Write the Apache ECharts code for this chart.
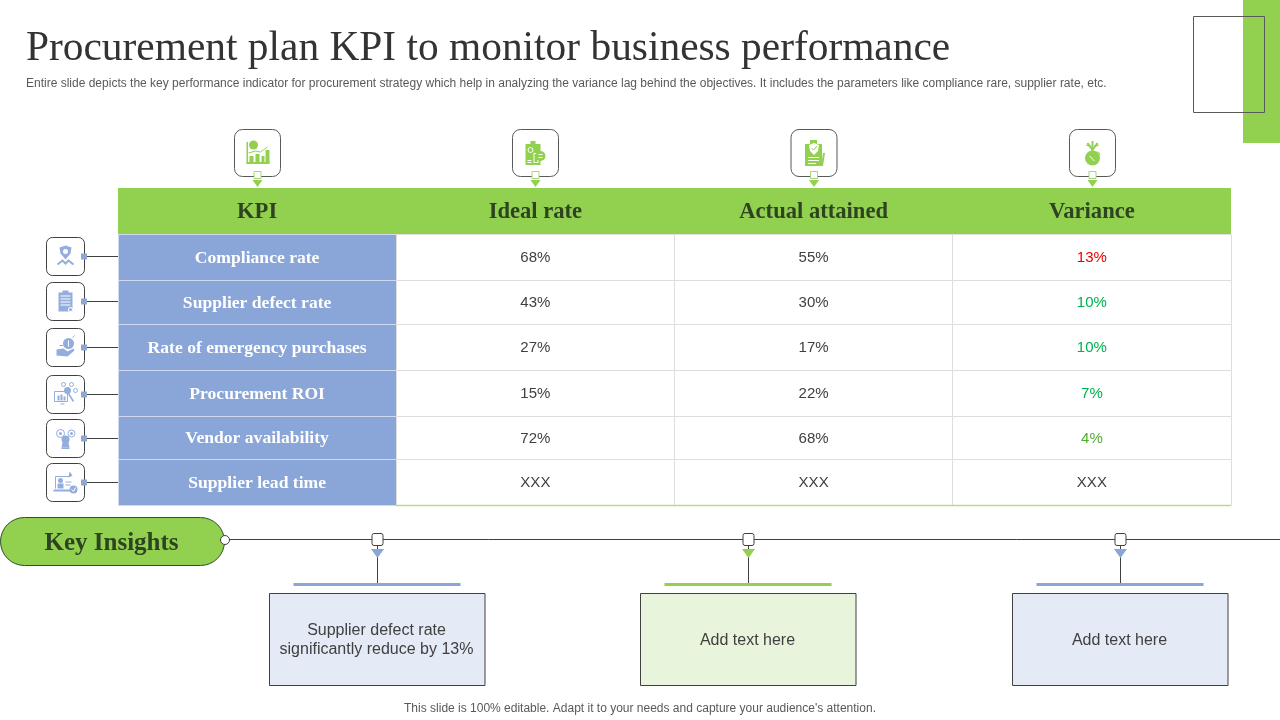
<!DOCTYPE html>
<html>
<head>
<meta charset="utf-8">
<title>Procurement plan KPI</title>
<script src="https://cdn.jsdelivr.net/npm/echarts@6/dist/echarts.min.js"></script>
<style>
html, body { margin: 0; padding: 0; background: #fff; }
#main { width: 1280px; height: 720px; }
</style>
</head>
<body>
<div id="main"></div>
<script>
var headline = 'Procurement plan KPI to monitor business performance';
var subline = 'Entire slide depicts the key performance indicator for procurement strategy which help in analyzing the variance lag behind the objectives. It includes the parameters like compliance rare, supplier rate, etc.';
var footer = 'This slide is 100% editable. Adapt it to your needs and capture your audience\'s attention.';

// table data, null is the XXX placeholder of the slide
var columns = ['KPI', 'Ideal rate', 'Actual attained', 'Variance'];
var kpis = ['Compliance rate', 'Supplier defect rate', 'Rate of emergency purchases', 'Procurement ROI', 'Vendor availability', 'Supplier lead time'];
var idealRate = [68, 43, 27, 15, 72, null];
var actualAttained = [55, 30, 17, 22, 68, null];
var variance = [13, 10, 10, 7, 4, null];
var insights = ['Supplier defect rate\nsignificantly reduce by 13%', 'Add text here', 'Add text here'];

// layout and look
var rowHeights = [46, 46, 44, 46, 46, 43, 46];
var varianceColors = ['#E60000', '#00B050', '#00B050', '#00B050', '#4FAE2E', '#404040'];
var GREEN = '#92D050', BLUE = '#8AA6D8', DARK = '#595959', INK = '#2E4420';
var SERIF = '"Liberation Serif", serif', SANS = '"Liberation Sans", Arial, sans-serif';
var insightFill = ['#E4EAF6', '#E8F4DB', '#E4EAF6'];
var insightAccent = [BLUE, GREEN, BLUE];
var topIconX = [257.5, 535.5, 814, 1092.5];
var sideIconY = [256.5, 301.5, 347.5, 394.5, 438.5, 482.5];

function pct(v) { return v === null ? 'XXX' : v + '%'; }

var cellData = [];
columns.forEach(function (c, i) { cellData.push([i, 0, c]); });
kpis.forEach(function (k, r) {
    cellData.push([0, r + 1, k]);
    cellData.push([1, r + 1, pct(idealRate[r])]);
    cellData.push([2, r + 1, pct(actualAttained[r])]);
    cellData.push([3, r + 1, pct(variance[r])]);
});

function renderCell(params, api) {
    var col = api.value(0), row = api.value(1);
    var top = 0;
    for (var i = 0; i < row; i++) top += rowHeights[i];
    var p0 = api.coord([col, top]);
    var p1 = api.coord([col, top + rowHeights[row]]);
    var w = api.size([1, 0])[0];
    var x = Math.floor(p0[0] - w / 2), xr = Math.floor(p0[0] + w / 2);
    var y = p0[1], h = p1[1] - p0[1];
    var cx = p0[0];
    var fill = '#fff', stroke = '#DEDEDE', text = '#404040', font = '15px ' + SANS, dy = 1, off = 0.5;
    if (row === 0) {
        fill = GREEN; stroke = GREEN; text = INK; font = 'bold 22.6px ' + SERIF; off = 0;
    } else if (col === 0) {
        fill = BLUE; stroke = '#CFDAF0'; text = '#fff'; font = 'bold 17.6px ' + SERIF;
    } else if (col === 3) {
        text = varianceColors[row - 1];
    }
    var kids = [
        { type: 'rect', shape: { x: x + off, y: y + off, width: xr - x, height: h }, style: { fill: fill, stroke: row === 0 ? null : stroke, lineWidth: 1 } }
    ];
    if (row === rowHeights.length - 1 && col > 0) {
        kids.push({ type: 'line', shape: { x1: x, y1: y + h + 0.5, x2: xr, y2: y + h + 0.5 }, style: { stroke: '#B9DA97', lineWidth: 1.5 } });
    }
    kids.push({ type: 'text', style: { x: cx, y: y + h / 2 + dy, text: api.value(2), font: font, fill: text, align: 'center', verticalAlign: 'middle' } });
    return { type: 'group', children: kids };
}

function renderInsight(params, api) {
    var i = api.value(0);
    var cx = Math.floor(api.coord([i, 0])[0]) + 0.5;
    var accent = insightAccent[i];
    return {
        type: 'group',
        children: [
            { type: 'line', shape: { x1: cx, y1: 546, x2: cx, y2: 584 }, style: { stroke: '#404040', lineWidth: 1 } },
            { type: 'rect', shape: { x: cx - 5.5, y: 533.5, width: 11, height: 12, r: 2 }, style: { fill: '#fff', stroke: '#404040', lineWidth: 1 } },
            { type: 'polygon', shape: { points: [[cx - 6.5, 549], [cx + 6.5, 549], [cx, 558]] }, style: { fill: accent } },
            { type: 'rect', shape: { x: cx - 84, y: 583, width: 167, height: 3 }, style: { fill: accent } },
            { type: 'rect', shape: { x: cx - 108, y: 593.5, width: 215.5, height: 92 }, style: { fill: insightFill[i], stroke: '#404040', lineWidth: 1 } },
            { type: 'text', style: { x: cx - 1, y: 640.5, text: insights[i], font: '16px ' + SANS, fill: '#404040', align: 'center', verticalAlign: 'middle', lineHeight: 19 } }
        ]
    };
}

// little icon shapes, coordinates relative to the frame centre
function box(x, y, w, h, c) { return { type: 'rect', shape: { x: x, y: y, width: w, height: h }, style: { fill: c } }; }
function dot(x, y, r, c) { return { type: 'circle', shape: { cx: x, cy: y, r: r }, style: { fill: c } }; }
function ring(x, y, r, c) { return { type: 'circle', shape: { cx: x, cy: y, r: r }, style: { fill: 'none', stroke: c, lineWidth: 1 } }; }
function poly(pts, c) { return { type: 'polygon', shape: { points: pts }, style: { fill: c } }; }
function trail(pts, c, lw) { return { type: 'polyline', shape: { points: pts }, style: { fill: 'none', stroke: c, lineWidth: lw || 1 } }; }

var G = GREEN, B = '#93ADDC', W = '#fff';
var topIcons = [
    [box(-11, -11, 1.5, 22, G), box(-11, 9, 23, 2, G), box(-8, 3, 4, 7, G), box(-2, 1, 4, 9, G), box(4, 3, 3, 7, G), box(8, -3, 4, 13, G), dot(-4, -8, 4.5, G), trail([[-9, 0], [-2, -2], [3, -1], [10, -6]], G, 1)],
    [box(-10, -9, 15, 21, G), box(-5, -12, 5, 4, G), ring(-5, -3, 2.5, W), box(-8, 7, 4, 1, W), box(-8, 9, 4, 1, W), box(-2, 0, 5, 10, W), box(-1, 1, 3, 8, G), dot(5, 3, 5, G), box(3, 1, 4, 1, W), box(3, 4, 4, 1, W)],
    [box(-9, -9, 17, 22, G), box(-4, -13, 7, 5, G), poly([[-5, -8], [0, -10], [5, -8], [4, -2], [0, 2], [-4, -2]], W), trail([[-2.5, -5], [-0.5, -3], [3, -7]], G, 1), box(-6, 4, 11, 1, W), box(-6, 7, 11, 1, W), box(-6, 10, 8, 1, W), poly([[9, 0], [11, 0], [9, 13], [7, 13]], G)],
    [dot(0, 5, 7.5, G), trail([[0, -2], [0, -12]], G, 2), trail([[0, -3], [-5, -10]], G, 2), trail([[0, -3], [5, -10]], G, 2), trail([[-6, -8], [-2, -7]], G, 1.5), trail([[6, -8], [2, -7]], G, 1.5), ring(5, 1, 2, G), trail([[-3, 3], [2, 8]], W, 1)]
];
var sideIcons = [
    [poly([[-6, -9], [0, -11], [6, -9], [5, -3], [0, 3], [-5, -3]], B), dot(0, -5, 2.5, W), trail([[-8, 8], [-3, 4], [0, 7], [3, 4], [8, 8]], B, 2)],
    [box(-7, -9, 14, 19, B), box(-3, -11, 6, 3, B), box(-5, -6, 10, 1, W), box(-5, -3, 10, 1, W), box(-5, 0, 10, 1, W), box(-5, 3, 10, 1, W), dot(5, 8, 2.5, W), dot(5, 8, 1.5, B)],
    [poly([[-9, 2], [-2, 1], [2, 4], [8, 1], [9, 3], [2, 9], [-9, 8]], B), dot(3, -4, 5.5, B), box(2.5, -7, 1, 6, W), trail([[7, -10], [9, -12]], B, 1), trail([[-6, -2], [-2, -2]], B, 1)],
    [trail([[-11, -3], [2, -3], [2, 7], [-11, 7], [-11, -3]], B, 1), box(-8, 1, 2, 5, B), box(-5, 0, 2, 6, B), box(-2, 2, 2, 4, B), box(-5, 9, 4, 1, B), dot(2, -4, 3.5, B), ring(-2, -10, 2, B), ring(6, -10, 2, B), ring(10, -4, 2, B), trail([[3, -1], [8, 7]], B, 1.5)],
    [ring(-5, -5, 4, B), dot(-5, -5, 1.5, B), ring(6, -5, 3.5, B), dot(6, -5, 1.5, B), dot(0, 1, 4, B), poly([[-4, 9], [4, 9], [3, 4], [-3, 4]], B), box(-4, 9, 8, 1.5, B)],
    [trail([[-10, -6], [5, -6]], B, 1), trail([[-10, -6], [-10, 6]], B, 1), box(-12, 7, 22, 2, B), dot(-5, -2, 2.5, B), box(-8, 1, 6, 5, B), box(0, -1, 6, 1, B), box(0, 2, 5, 1, B), poly([[4, -11], [7, -7], [3, -5]], B), dot(8, 7, 4, B), trail([[6, 7], [8, 9], [10, 5]], W, 1)]
];

var graphics = [
    { type: 'rect', silent: true, shape: { x: 1243, y: 0, width: 37, height: 143 }, style: { fill: GREEN } },
    { type: 'rect', silent: true, shape: { x: 1193.5, y: 16.5, width: 71, height: 96 }, style: { fill: 'none', stroke: DARK, lineWidth: 1 } },
    // key insights pill and timeline
    { type: 'line', silent: true, shape: { x1: 225, y1: 539.5, x2: 1280, y2: 539.5 }, style: { stroke: '#404040', lineWidth: 1 } },
    { type: 'rect', silent: true, shape: { x: 0.5, y: 517.5, width: 224, height: 48, r: 24 }, style: { fill: GREEN, stroke: '#2F5020', lineWidth: 1 } },
    { type: 'circle', silent: true, shape: { cx: 225, cy: 540, r: 4.5 }, style: { fill: '#fff', stroke: '#404040', lineWidth: 1 } },
    { type: 'text', silent: true, style: { x: 111.5, y: 544, text: 'Key Insights', font: 'bold 25px ' + SERIF, fill: INK, align: 'center', verticalAlign: 'middle' } }
];

topIconX.forEach(function (x, i) {
    graphics.push({ type: 'rect', silent: true, shape: { x: x - 23, y: 129.5, width: 46, height: 47, r: 8 }, style: { fill: '#fff', stroke: DARK, lineWidth: 1 } });
    graphics.push({ type: 'group', silent: true, x: x, y: 153, children: topIcons[i] });
    graphics.push({ type: 'rect', silent: true, shape: { x: x - 3.5, y: 171.5, width: 7, height: 7 }, style: { fill: '#fff', stroke: '#A9D57A', lineWidth: 1 } });
    graphics.push({ type: 'polygon', silent: true, shape: { points: [[x - 5, 180], [x + 5, 180], [x, 187]] }, style: { fill: GREEN } });
});
sideIconY.forEach(function (y, i) {
    graphics.push({ type: 'line', silent: true, shape: { x1: 85, y1: y, x2: 118, y2: y }, style: { stroke: '#404040', lineWidth: 1 } });
    graphics.push({ type: 'rect', silent: true, shape: { x: 46.5, y: y - 19, width: 38, height: 38, r: 6 }, style: { fill: '#fff', stroke: '#404040', lineWidth: 1 } });
    graphics.push({ type: 'group', silent: true, x: 65.5, y: y, children: sideIcons[i] });
    graphics.push({ type: 'rect', silent: true, shape: { x: 81, y: y - 3, width: 6, height: 6 }, style: { fill: '#8FA6CF' } });
});

var chart = echarts.init(document.getElementById('main'), null, { renderer: 'canvas' });
var option = {
    animation: false,
    backgroundColor: '#fff',
    title: [
        { text: headline, left: 26, top: 29, padding: 0, textStyle: { fontFamily: SERIF, fontSize: 41.4, fontWeight: 'normal', color: '#333333' } },
        { text: subline, left: 26, top: 78, padding: 0, textStyle: { fontFamily: SANS, fontSize: 12, fontWeight: 'normal', color: DARK } },
        { text: footer, left: 'center', top: 703, padding: 0, textStyle: { fontFamily: SANS, fontSize: 12, fontWeight: 'normal', color: DARK } }
    ],
    grid: [
        { left: 118, top: 188, width: 1113, height: 317 },
        { left: 377, top: 517, width: 743, height: 180 }
    ],
    xAxis: [
        { type: 'category', gridIndex: 0, data: columns, show: false },
        { type: 'value', gridIndex: 1, min: 0, max: 2, show: false }
    ],
    yAxis: [
        { type: 'value', gridIndex: 0, min: 0, max: 317, inverse: true, show: false },
        { type: 'value', gridIndex: 1, min: 0, max: 1, show: false }
    ],
    series: [
        { type: 'custom', name: 'KPI table', xAxisIndex: 0, yAxisIndex: 0, data: cellData, renderItem: renderCell, clip: false, silent: true, z: 3, encode: { x: 0, y: 1 } },
        { type: 'custom', name: 'Insights', xAxisIndex: 1, yAxisIndex: 1, data: insights.map(function (t, i) { return [i, 0]; }), renderItem: renderInsight, clip: false, silent: true, z: 3, encode: { x: 0, y: 1 } }
    ],
    graphic: graphics
};
chart.setOption(option);
</script>
</body>
</html>
